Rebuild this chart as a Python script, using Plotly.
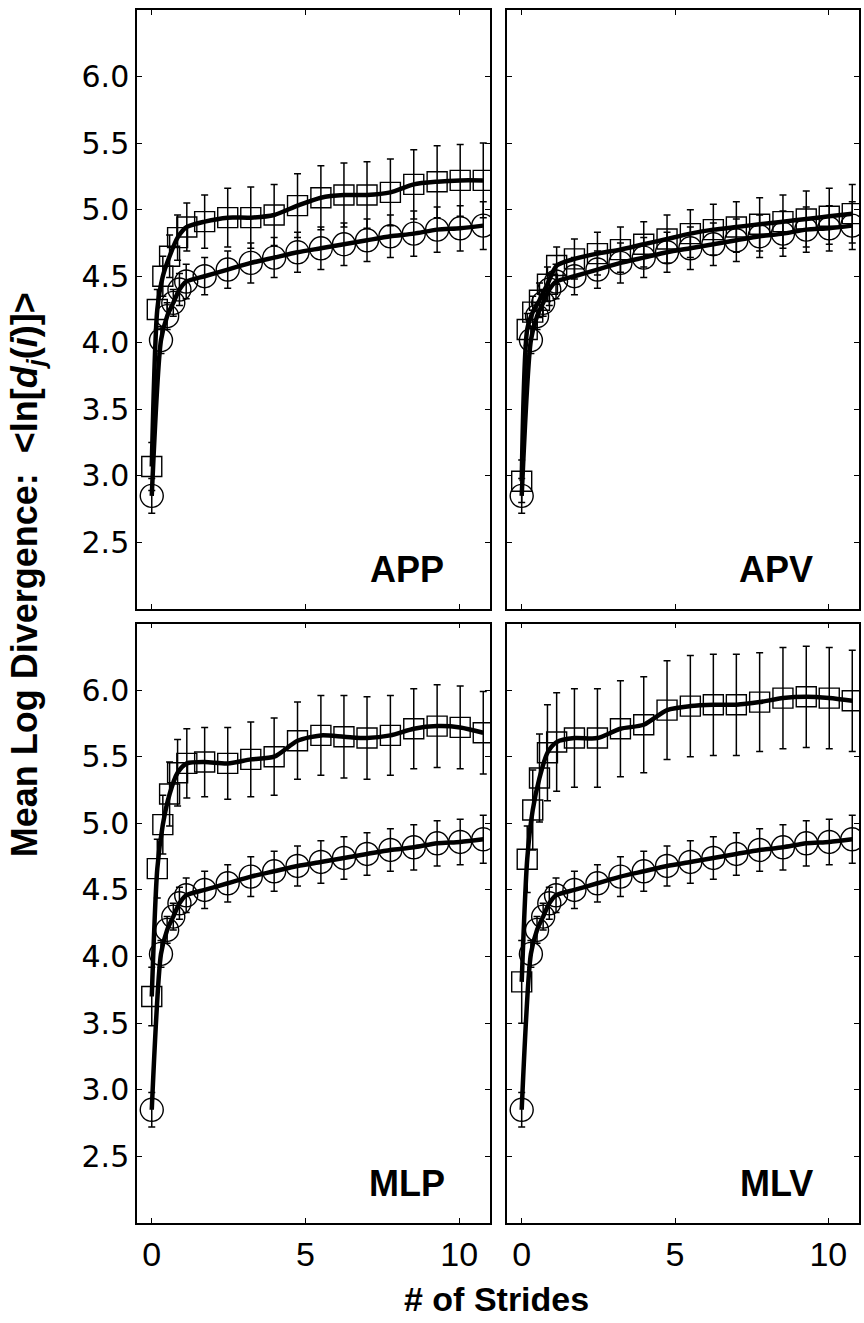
import plotly.graph_objects as go

# ---------------- data ----------------
panels = ["APP", "APV", "MLP", "MLV"]

x_circle = [0, 0.3, 0.5, 0.7, 0.9, 1.12, 1.72, 2.47, 3.22, 3.98, 4.74, 5.5,
            6.25, 7.0, 7.76, 8.52, 9.28, 10.03, 10.78]
x_square = [0, 0.18, 0.36, 0.58, 0.84, 1.14, 1.72, 2.47, 3.22, 3.98, 4.74, 5.5,
            6.25, 7.0, 7.76, 8.52, 9.28, 10.03, 10.78]

circle_mean = [2.85, 4.02, 4.2, 4.3, 4.4, 4.46, 4.5, 4.55, 4.6, 4.64, 4.68, 4.71,
               4.74, 4.77, 4.8, 4.82, 4.85, 4.86, 4.88]
circle_err = [0.13, 0.1, 0.1, 0.1, 0.12, 0.13, 0.14, 0.14, 0.15, 0.15, 0.15, 0.16,
              0.16, 0.16, 0.16, 0.17, 0.17, 0.17, 0.18]

app_mean = [3.07, 4.25, 4.5, 4.65, 4.79, 4.87, 4.91, 4.94, 4.94, 4.96, 5.03, 5.09,
            5.11, 5.11, 5.13, 5.19, 5.21, 5.22, 5.22]
app_err = [0.18, 0.15, 0.15, 0.16, 0.17, 0.18, 0.2, 0.22, 0.23, 0.23, 0.24, 0.24,
           0.24, 0.25, 0.25, 0.26, 0.27, 0.27, 0.28]

apv_mean = [2.96, 4.1, 4.23, 4.32, 4.44, 4.58, 4.63, 4.67, 4.7, 4.74, 4.78, 4.82,
            4.85, 4.87, 4.89, 4.91, 4.93, 4.95, 4.97]
apv_err = [0.16, 0.12, 0.12, 0.13, 0.13, 0.14, 0.15, 0.16, 0.17, 0.17, 0.18, 0.18,
           0.19, 0.19, 0.2, 0.2, 0.21, 0.21, 0.22]

mlp_mean = [3.7, 4.66, 4.99, 5.22, 5.38, 5.45, 5.46, 5.45, 5.48, 5.5, 5.62, 5.66,
            5.65, 5.64, 5.66, 5.71, 5.73, 5.72, 5.68]
mlp_err = [0.22, 0.22, 0.22, 0.24, 0.25, 0.26, 0.26, 0.27, 0.28, 0.29, 0.29, 0.3,
           0.31, 0.31, 0.3, 0.3, 0.31, 0.31, 0.31]

mlv_mean = [3.81, 4.73, 5.1, 5.34, 5.53, 5.61, 5.64, 5.64, 5.71, 5.74, 5.85, 5.88,
            5.89, 5.89, 5.91, 5.94, 5.95, 5.94, 5.92]
mlv_err = [0.31, 0.25, 0.3, 0.33, 0.36, 0.37, 0.37, 0.37, 0.36, 0.36, 0.37, 0.38,
           0.38, 0.38, 0.37, 0.38, 0.38, 0.38, 0.38]

square_means = [app_mean, apv_mean, mlp_mean, mlv_mean]
square_errs = [app_err, apv_err, mlp_err, mlv_err]

y_ticks = [2.5, 3.0, 3.5, 4.0, 4.5, 5.0, 5.5, 6.0]
x_ticks = [0, 5, 10]

# ---------------- figure ----------------
W, H = 864, 1323
ML, MR, MT, MB = 137, 3, 10, 100
pw = W - ML - MR
ph = H - MT - MB

FONT = "Liberation Sans, Arial, sans-serif"
WIDE = "DejaVu Sans, Liberation Sans, sans-serif"
NARROW = "Liberation Sans Narrow, Liberation Sans, Arial, sans-serif"

def px_x(p):
    return (p - ML) / pw

def px_y(p):
    return 1 - (p - MT) / ph

fig = go.Figure()

for i, name in enumerate(panels):
    xa = "x" if i == 0 else f"x{i+1}"
    ya = "y" if i == 0 else f"y{i+1}"
    fig.add_trace(go.Scatter(
        x=x_circle, y=circle_mean, xaxis=xa, yaxis=ya, mode="markers",
        marker=dict(symbol="circle-open", size=23, color="black",
                    line=dict(width=1.4, color="black")),
        error_y=dict(type="data", array=circle_err, color="black",
                     thickness=1.5, width=3.5),
        showlegend=False))
    fig.add_trace(go.Scatter(
        x=x_square, y=square_means[i], xaxis=xa, yaxis=ya, mode="markers",
        marker=dict(symbol="square-open", size=20, color="black",
                    line=dict(width=1.4, color="black")),
        error_y=dict(type="data", array=square_errs[i], color="black",
                     thickness=1.5, width=3.5),
        showlegend=False))
    fig.add_trace(go.Scatter(
        x=x_circle, y=circle_mean, xaxis=xa, yaxis=ya, mode="lines",
        line=dict(color="black", width=4.5, shape="spline", smoothing=0.7),
        showlegend=False, hoverinfo="skip"))
    fig.add_trace(go.Scatter(
        x=x_square, y=square_means[i], xaxis=xa, yaxis=ya, mode="lines",
        line=dict(color="black", width=4.5, shape="spline", smoothing=0.7),
        showlegend=False, hoverinfo="skip"))
    fig.add_annotation(
        x=8.3, y=2.3, xref=xa, yref=ya, text=f"<b>{name}</b>",
        showarrow=False, font=dict(family=FONT, size=36, color="black"))

x_dom = [[px_x(137), px_x(491)], [px_x(508), px_x(861)]]
y_dom = [[px_y(609), px_y(10)], [px_y(1223), px_y(623.5)]]
y_dom[1][0] = max(0.0, y_dom[1][0])

axis_common = dict(showline=True, linecolor="black", linewidth=1.5, mirror="ticks",
                   ticks="inside", ticklen=5, tickwidth=1.2, tickcolor="black",
                   showgrid=False, zeroline=False)

layout = dict(width=W, height=H, margin=dict(l=ML, r=MR, t=MT, b=MB),
              plot_bgcolor="white", paper_bgcolor="white",
              font=dict(family=FONT, color="black"))

for i in range(4):
    col = i % 2
    row = i // 2
    xk = "xaxis" if i == 0 else f"xaxis{i+1}"
    yk = "yaxis" if i == 0 else f"yaxis{i+1}"
    ya = "y" if i == 0 else f"y{i+1}"
    xa = "x" if i == 0 else f"x{i+1}"
    layout[xk] = dict(axis_common, domain=x_dom[col], range=[-0.48, 11.0],
                      tickvals=x_ticks, anchor=ya,
                      showticklabels=(row == 1),
                      tickfont=dict(family=NARROW, size=34))
    layout[yk] = dict(axis_common, domain=y_dom[row], range=[2.0, 6.5],
                      tickvals=y_ticks, tickformat=".1f", anchor=xa,
                      showticklabels=(col == 0),
                      tickfont=dict(family=WIDE, size=30))

fig.update_layout(**layout)

fig.add_annotation(
    x=px_x(497), y=px_y(1299), xref="paper", yref="paper",
    text="<b># of Strides</b>", showarrow=False,
    font=dict(family=FONT, size=34, color="black"),
    xanchor="center", yanchor="middle")

fig.add_annotation(
    x=px_x(27), y=px_y(575), xref="paper", yref="paper",
    text="<b>Mean Log Divergence:  &lt;ln[<i>d<sub>j</sub></i>(<i>i</i>)]&gt;</b>",
    showarrow=False, textangle=-90,
    font=dict(family=FONT, size=36, color="black"),
    xanchor="center", yanchor="middle")

fig.write_html("out.html")
